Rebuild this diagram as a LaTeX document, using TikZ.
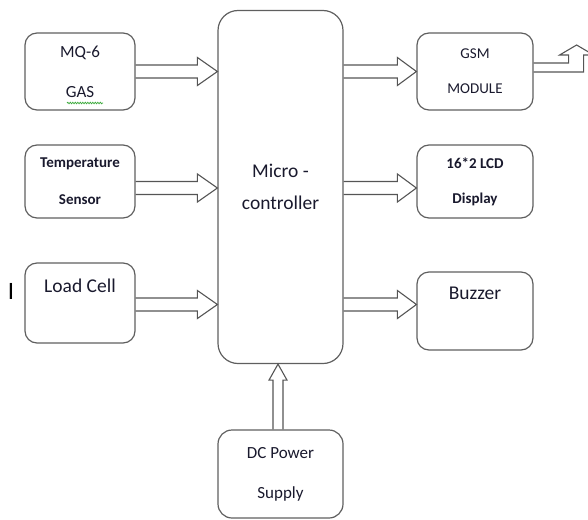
\documentclass[tikz,border=0pt]{standalone}
\usepackage{fontspec}
\setmainfont{Carlito}
\usetikzlibrary{positioning,calc}
\usetikzlibrary{decorations.pathmorphing}
\definecolor{BoxGray}{RGB}{95,95,95}
\definecolor{ArrGray}{RGB}{85,85,85}
\definecolor{InkDark}{RGB}{25,25,45}
\definecolor{SpellGreen}{RGB}{60,170,60}
\tikzset{
  blk/.style={draw=BoxGray,line width=1.2pt,rounded corners=12pt,align=center,text=InkDark,
    minimum width=110pt,inner sep=0pt},
  fat/.style={draw=ArrGray,line width=1.1pt,line join=miter},
  squiggle/.style={draw=SpellGreen,line width=0.8pt,decorate,
    decoration={snake,amplitude=0.7pt,segment length=2.5pt}},
}
\newcommand{\fsz}[2]{\fontsize{#1}{#2}\selectfont}
% hollow block arrow: start, tip, shaft half width, head half width, head length
\newcommand{\fatarrow}[5]{%
  \coordinate (fa-s) at (#1);
  \coordinate (fa-t) at (#2);
  \coordinate (fa-b) at ($(fa-t)!#5!(fa-s)$);
  \draw[fat] ($(fa-s)!#3!90:(fa-t)$) -- ($(fa-b)!#3!-90:(fa-s)$) -- ($(fa-b)!#4!-90:(fa-s)$)
    -- (fa-t) -- ($(fa-b)!#4!90:(fa-s)$) -- ($(fa-b)!#3!90:(fa-s)$) -- ($(fa-s)!#3!-90:(fa-t)$);
}

\begin{document}
\begin{tikzpicture}[x=1pt,y=-1pt]
\useasboundingbox (0,0) rectangle (588,519);
\clip (0,0) rectangle (588,519);
% inputs
\node[blk,minimum height=77pt,font=\fsz{17}{40}] (mq) at (80,71.5) {MQ-6\\GAS};
\node[blk,minimum height=73pt,font=\bfseries\fsz{15}{37}] (temp) at (80,181.5) {Temperature\\Sensor};
\node[blk,minimum height=80pt,font=\fsz{19.5}{35}] (load) at (80,303) {Load Cell\\~};
\node[font=\fsz{25}{30},text=black] (cur) at (11,291) {I};
% controller and supply
\node[blk,minimum width=125pt,minimum height=353pt,rounded corners=20pt,font=\fsz{19.5}{32}] (mcu) at (280.5,187) {Micro -\\controller};
\node[blk,minimum width=125pt,minimum height=88pt,rounded corners=14pt,font=\fsz{17}{40}] (dc) at (280.5,474) {DC Power\\Supply};
% outputs
\node[blk,minimum width=116pt,minimum height=77pt,font=\fsz{15}{35}] (gsm) at (475,71.5) {GSM\\MODULE};
\node[blk,minimum width=116pt,minimum height=73pt,font=\bfseries\fsz{15}{35}] (lcd) at (475,181.5) {16*2 LCD\\Display};
\node[blk,minimum width=116pt,minimum height=78pt,font=\fsz{19.5}{35}] (buzz) at (475,311) {Buzzer\\~};
\draw[squiggle] ($(mq.center)+(-13,31.5)$) -- ($(mq.center)+(23,31.5)$);

\coordinate (a1) at (mq.east);
\coordinate (a2) at ($(temp.east)+(0,6.5)$);
\coordinate (a3) at ($(load.east)+(0,1.5)$);
\fatarrow{a1}{mcu.west |- a1}{6.5pt}{14pt}{20pt}
\fatarrow{a2}{mcu.west |- a2}{6.5pt}{14pt}{20pt}
\fatarrow{a3}{mcu.west |- a3}{6.5pt}{14pt}{20pt}
\coordinate (b1) at (mcu.east |- gsm.west);
\coordinate (b2) at ($(mcu.east |- lcd.west)+(0,6.5)$);
\coordinate (b3) at ($(mcu.east |- buzz.west)+(0,-6.5)$);
\fatarrow{b1}{gsm.west}{6.5pt}{14pt}{19pt}
\fatarrow{b2}{lcd.west |- b2}{6.5pt}{14pt}{19pt}
\fatarrow{b3}{buzz.west |- b3}{6.5pt}{14pt}{19pt}
\coordinate (c1) at ($(dc.north)+(-2.5,0)$);
\fatarrow{c1}{mcu.south -| c1}{5pt}{9pt}{16pt}
% gsm antenna output
\draw[fat] ($(gsm.east)+(0,-8.5)$) -- ++(35,0) -- ++(0,-8) -- ++(-9,0) -- ++(17,-10)
  -- ++(17,10) -- ++(-10,0) -- ++(0,17) -- ++(-50,0);
\end{tikzpicture}
\end{document}
